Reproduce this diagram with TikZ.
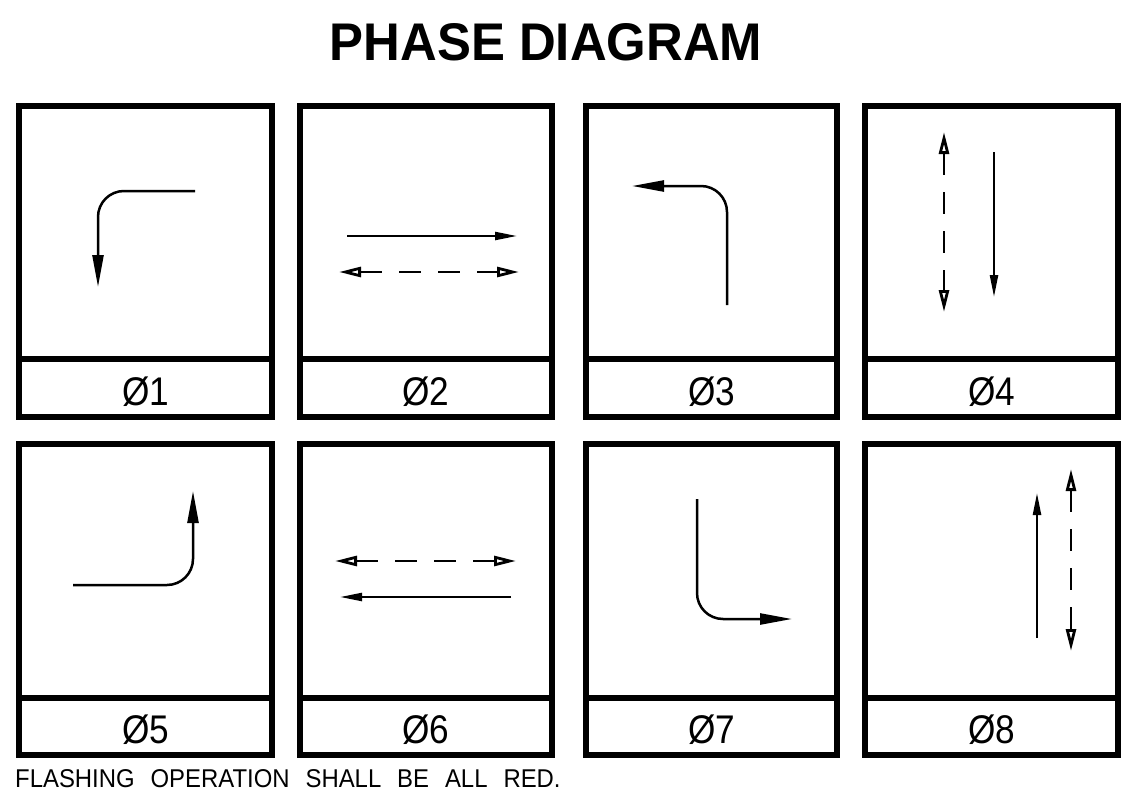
\documentclass[tikz,border=0pt]{standalone}
\usepackage{fontspec}
\usepackage{tikz}
\usetikzlibrary{arrows.meta}
\setmainfont{Liberation Sans}
\newfontfamily\notefont[WordSpace=2.4]{Liberation Sans}
\tikzset{phasebox/.style={line width=5.5pt, line join=miter},
         phaselabel/.style={anchor=base, inner sep=0pt, font=\fontsize{40}{40}\selectfont, xscale=0.88},
         turnarrow/.style={line width=2.5pt, rounded corners=26pt, -{Triangle[length=32pt,width=11pt]}},
         thruarrow/.style={line width=2.3pt, -{Triangle[length=22pt,width=8pt]}},
         pedarrow/.style={line width=2.8pt, dash pattern=on 22pt off 17pt,
                          {Triangle[open,length=22pt,width=10pt,fill=white]}-{Triangle[open,length=22pt,width=10pt,fill=white]}}}

\begin{document}
\begin{tikzpicture}[x=1pt, y=-1pt]
    \useasboundingbox[fill=white] (0,0) rectangle (1122,795);

    \node[anchor=base, inner sep=0pt, xscale=0.96, font=\bfseries\fontsize{53}{53}\selectfont] (title) at (546,60) {PHASE DIAGRAM};

    % boxes: left/right/top/divider/bottom/phase
    \foreach \l/\r/\t/\m/\b/\n in {19/272/106/359/417/1, 300/552/106/359/417/2, 586/837/106/359/417/3, 865/1118/106/359/417/4,
                                   19/272/444/698/755/5, 300/552/444/698/755/6, 586/837/444/698/755/7, 865/1118/444/698/755/8}
    {
        \draw[phasebox] (\l,\t) rectangle (\r,\b);
        \draw[phasebox] (\l,\m) -- (\r,\m);
        \node[phaselabel] (lbl\n) at ({(\l+\r)/2}, {(\m+\b)/2+17}) {Ø\n};
    }

    % movements
    \draw[turnarrow] (195,191) -- (98,191) -- (98,287);
    \draw[thruarrow] (347,236) -- (517,236);
    \draw[pedarrow] (339,272) -- (519,272);
    \draw[turnarrow] (727,305) -- (727,186) -- (632,186);
    \draw[pedarrow] (944,132) -- (944,312);
    \draw[thruarrow] (994,152) -- (994,297);

    \draw[turnarrow] (73,585) -- (193,585) -- (193,491);
    \draw[pedarrow] (335,561) -- (516,561);
    \draw[thruarrow] (511,597) -- (340,597);
    \draw[turnarrow] (697,499) -- (697,619) -- (792,619);
    \draw[thruarrow] (1037,638) -- (1037,493);
    \draw[pedarrow] (1071,469) -- (1071,651);

    \node[anchor=base west, inner sep=0pt, xscale=0.93, font=\notefont\fontsize{25.7}{25.7}\selectfont] (note) at (15,787) {FLASHING OPERATION SHALL BE ALL RED.};
\end{tikzpicture}
\end{document}
